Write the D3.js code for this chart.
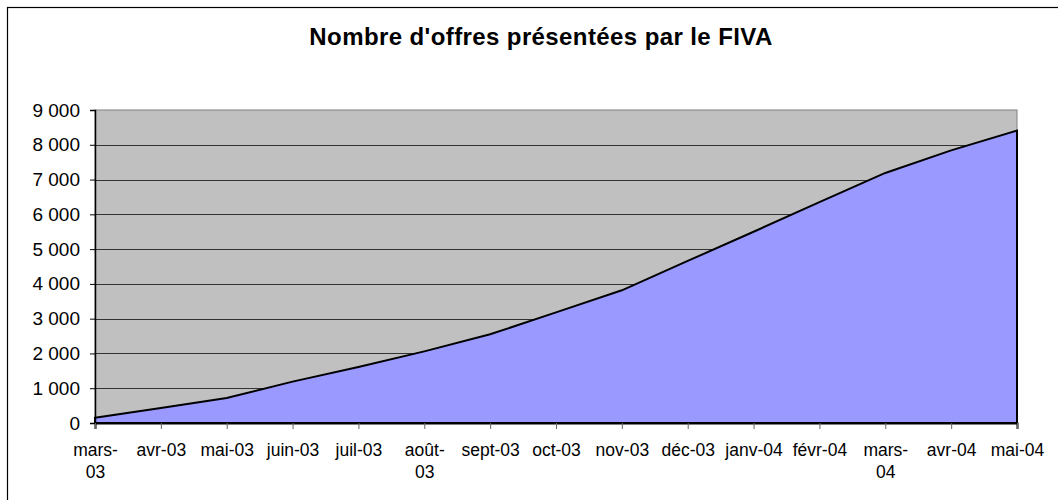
<!DOCTYPE html>
<html>
<head>
<meta charset="utf-8">
<script src="https://cdn.jsdelivr.net/npm/d3@7"></script>
<style>
  body { margin: 0; background: #fff; }
  svg { display: block; font-family: Arial, "Liberation Sans", sans-serif; }
</style>
</head>
<body>
<svg width="1058" height="500"></svg>
<script>
const TITLE = "Nombre d'offres présentées par le FIVA";
const months = ['mars-03','avr-03','mai-03','juin-03','juil-03','août-03','sept-03','oct-03','nov-03','déc-03','janv-04','févr-04','mars-04','avr-04','mai-04'];
const offres = [150, 430, 720, 1190, 1610, 2060, 2550, 3180, 3815, 4660, 5500, 6350, 7190, 7840, 8410];
const yTicks = [0, 1000, 2000, 3000, 4000, 5000, 6000, 7000, 8000, 9000];

const svg = d3.select('svg');
const plotL = 95, plotR = 1017, plotT = 110, plotB = 423;

// outer chart border, runs off the right and bottom of the window
svg.append('rect').attr('x', 7.5).attr('y', 7.5).attr('width', 1100).attr('height', 600)
  .attr('fill', '#fff').attr('stroke', '#000').attr('stroke-width', 1.2);

svg.append('text').attr('x', 541).attr('y', 45).attr('text-anchor', 'middle')
  .attr('font-size', 24).attr('font-weight', 'bold').attr('letter-spacing', 0.4).text(TITLE);

const x = d3.scalePoint().domain(months).range([plotL, plotR]);
const y = d3.scaleLinear().domain([0, 9000]).range([plotB, plotT]);

svg.append('rect').attr('x', plotL).attr('y', plotT).attr('width', plotR - plotL).attr('height', plotB - plotT)
  .attr('fill', '#c0c0c0').attr('stroke', '#808080');

// gridlines
svg.append('g').selectAll('line').data(yTicks.filter(d => d > 0 && d < 9000)).enter().append('line')
  .attr('x1', plotL).attr('x2', plotR)
  .attr('y1', d => Math.round(y(d)) + 0.5).attr('y2', d => Math.round(y(d)) + 0.5)
  .attr('stroke', '#333');

const pts = months.map((m, i) => ({ m, v: offres[i] }));
const area = d3.area().x(d => x(d.m)).y0(y(0)).y1(d => y(d.v));
svg.append('path').datum(pts).attr('d', area).attr('fill', '#9999ff')
  .attr('stroke', '#000').attr('stroke-width', 2);

// y axis
const yAxis = svg.append('g').attr('transform', `translate(${plotL},0)`)
  .call(d3.axisLeft(y).tickValues(yTicks).tickSize(5).tickPadding(10)
    .tickFormat(d => d3.format(',')(d).replace(',', ' ')));
yAxis.select('.domain').attr('stroke', '#000').attr('stroke-width', 1.5);
yAxis.selectAll('.tick line').attr('stroke', '#000');
yAxis.selectAll('text').attr('font-size', 19).attr('font-family', 'Arial, "Liberation Sans", sans-serif').attr('fill', '#000');

// x axis
const xAxis = svg.append('g').attr('transform', `translate(0,${plotB})`)
  .call(d3.axisBottom(x).tickSize(6).tickPadding(8).tickFormat(''));
xAxis.select('.domain').attr('stroke', '#000').attr('stroke-width', 2);
xAxis.selectAll('.tick line').attr('stroke', '#666');

const wrapped = { 'mars-03': ['mars-', '03'], 'août-03': ['août-', '03'], 'mars-04': ['mars-', '04'] };
xAxis.selectAll('.tick').each(function(d) {
  const lines = wrapped[d] || [d];
  const t = d3.select(this).append('text').attr('text-anchor', 'middle')
    .attr('font-size', 17.5).attr('fill', '#000');
  lines.forEach((s, i) => t.append('tspan').attr('x', 0).attr('y', 33 + i * 22).text(s));
});
</script>
</body>
</html>
